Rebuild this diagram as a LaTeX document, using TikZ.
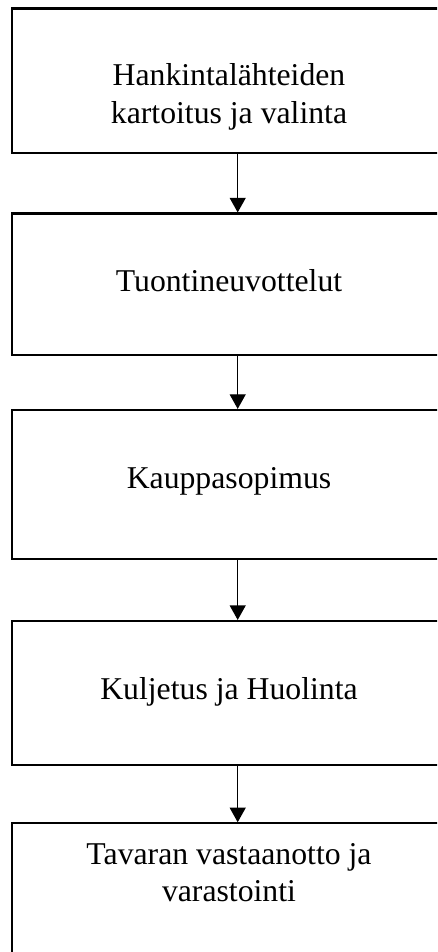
\documentclass[tikz,border=0pt]{standalone}
\usepackage{fontspec}
\setmainfont{Liberation Serif}
\usetikzlibrary{arrows.meta}

\tikzset{
  stage/.style={draw, line width=1.6pt, minimum width=338.5pt, inner sep=0pt},
  stagetext/.style={anchor=base, inner sep=0pt, align=center, font=\fontsize{23.8}{28}\selectfont},
  flow/.style={line width=1.1pt, -{Triangle[length=11pt,width=12pt]}}
}

\begin{document}
\begin{tikzpicture}[x=0.75pt,y=0.75pt,yscale=-1,xscale=1]
\clip (0,0) rectangle (437,952);

% Boxes
\node[stage, minimum height=108.4pt] (kartoitus) at (237.7,80.75) {};
\node[stage, minimum height=106.1pt] (neuvottelut) at (237.7,284.25) {};
\node[stage, minimum height=112pt] (sopimus) at (237.7,484.65) {};
\node[stage, minimum height=108pt] (kuljetus) at (237.7,693) {};
\node[stage, minimum height=112.5pt] (varastointi) at (237.7,898.3) {};

% Text Node (base = last line)
\node[stagetext] (kartoitusText) at (229,123.3) {Hankintalähteiden\\kartoitus ja valinta};
% Text Node
\node[stagetext] (neuvottelutText) at (229,291.7) {Tuontineuvottelut};
% Text Node
\node[stagetext] (sopimusText) at (229,488.3) {Kauppasopimus};
% Text Node
\node[stagetext] (kuljetusText) at (229,699.3) {Kuljetus ja Huolinta};
% Text Node
\node[stagetext] (varastointiText) at (229,901.7) {Tavaran vastaanotto ja\\varastointi};

% Arrows
\draw[flow] (kartoitus.south) -- (neuvottelut.north);
\draw[flow] (neuvottelut.south) -- (sopimus.north);
\draw[flow] (sopimus.south) -- (kuljetus.north);
\draw[flow] (kuljetus.south) -- (varastointi.north);

\end{tikzpicture}
\end{document}
